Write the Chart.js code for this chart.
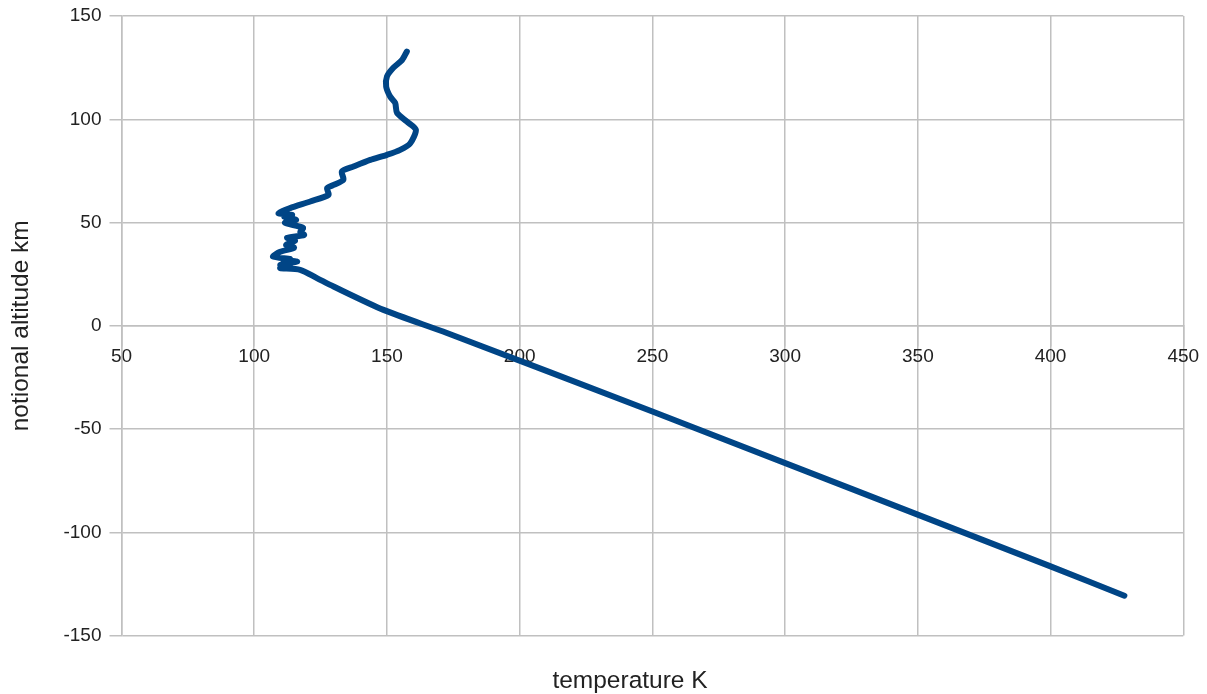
<!DOCTYPE html>
<html>
<head>
  <title>Temperature vs altitude</title>
  <style>
    body {
      margin: 0;
      background: #fff;
    }
    #chartContainer {
      width: 1207px;
      height: 694px;
    }
  </style>
</head>
<body>
  <div id="chartContainer">
    <canvas id="tempChart" width="1207" height="694"></canvas>
  </div>

  <script src="https://cdn.jsdelivr.net/npm/chart.js"></script>
  <script>
    // values, top of the profile first
    const temperature = [
      157.5, 155.7, 152.4, 150.0, 149.7, 151.2, 153.1, 153.8, 157.5, 160.9,
      158.8, 155.0, 150.0, 143.7, 137.4, 133.0, 133.6, 129.9, 127.4, 128.0,
      121.1, 113.5, 109.1, 114.3, 111.3, 115.8, 111.6, 118.4, 117.3, 118.8,
      112.4, 115.4, 112.0, 115.0, 109.8, 107.1, 113.5, 110.9, 116.2, 109.8,
      113.5, 109.8, 117.3, 123.6, 129.9, 148.7, 172.6, 250.0, 400.0, 427.8
    ];
    const altitude = [
      132.8, 128.7, 124.9, 120.7, 115.8, 111.0, 107.9, 103.1, 98.9, 94.9,
      88.4, 85.2, 82.8, 80.3, 77.1, 74.7, 70.7, 68.2, 66.6, 63.4,
      60.2, 57.0, 54.5, 53.7, 52.8, 51.3, 49.9, 47.4, 45.5, 44.0,
      42.6, 41.1, 39.2, 37.8, 35.8, 33.5, 32.4, 31.9, 31.0, 29.5,
      28.6, 27.9, 27.1, 23.1, 19.0, 7.7, -3.5, -41.5, -116.5, -130.7
    ];
    const xTicks = [50, 100, 150, 200, 250, 300, 350, 400, 450];
    const yTicks = [-150, -100, -50, 0, 50, 100, 150];

    const points = temperature.map((t, i) => ({ x: t, y: altitude[i] }));
    const fontFamily = '"Liberation Sans", Arial, sans-serif';
    const gridColor = '#c0c0c0';
    const textColor = '#222';

    const ctx = document.getElementById('tempChart').getContext('2d');

    new Chart(ctx, {
      type: 'scatter',
      data: {
        datasets: [{
          label: 'temperature',
          data: points,
          showLine: true,
          borderColor: '#004586',
          backgroundColor: '#004586',
          borderWidth: 6,
          pointRadius: 0,
          tension: 0.25,
          borderCapStyle: 'round',
          borderJoinStyle: 'round'
        }]
      },
      options: {
        responsive: false,
        animation: false,
        layout: {
          padding: { left: 53, right: 0, top: 16, bottom: 0 }
        },
        plugins: {
          legend: { display: false },
          tooltip: { enabled: false },
          title: {
            display: true,
            position: 'bottom',
            text: 'temperature K',
            color: textColor,
            font: { family: fontFamily, size: 24.5, weight: 'normal' },
            padding: { top: 31, bottom: -2 }
          }
        },
        scales: {
          x: {
            type: 'linear',
            position: { y: 0 },
            min: 50,
            max: 450,
            afterBuildTicks: (scale) => {
              scale.ticks = xTicks.map(v => ({ value: v }));
            },
            grid: {
              color: gridColor,
              lineWidth: 1.5,
              tickLength: 20   // hidden under the vertical grid lines, pushes labels down
            },
            border: { color: gridColor, width: 1.5 },
            ticks: {
              color: textColor,
              padding: 0,
              maxRotation: 0,
              font: { family: fontFamily, size: 19 }
            }
          },
          y: {
            type: 'linear',
            position: 'left',
            min: -150,
            max: 150,
            afterBuildTicks: (scale) => {
              scale.ticks = yTicks.map(v => ({ value: v }));
            },
            afterFit: (scale) => {
              scale.width = 68.5;
            },
            grid: {
              color: gridColor,
              lineWidth: 1.5,
              tickLength: 20,
              // only the inner 12px of the tick mark is drawn
              tickBorderDash: [12, 8],
              tickBorderDashOffset: 12
            },
            border: { color: gridColor, width: 1.5 },
            ticks: {
              color: textColor,
              padding: 0,
              font: { family: fontFamily, size: 19 }
            },
            title: {
              display: true,
              text: 'notional altitude km',
              color: textColor,
              font: { family: fontFamily, size: 24.5 },
              padding: { top: -46.7, bottom: 0 }
            }
          },
          // empty right-hand axis, only keeps the plot clear of the right edge
          yRight: {
            type: 'linear',
            position: 'right',
            min: -150,
            max: 150,
            grid: { display: false },
            border: { display: false },
            ticks: { display: false },
            afterFit: (scale) => {
              scale.width = 23.7;
            }
          }
        }
      }
    });
  </script>
</body>
</html>
